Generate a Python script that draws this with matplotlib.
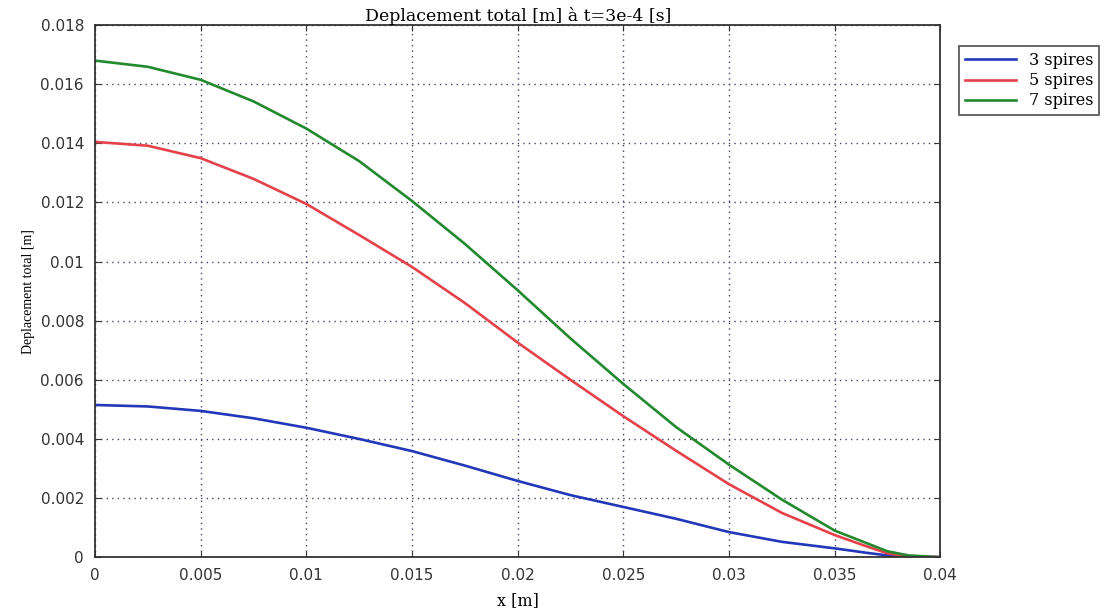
import numpy as np
import matplotlib
matplotlib.use("Agg")
import matplotlib.pyplot as plt

# values
x = [0, 0.0025, 0.005, 0.0075, 0.01, 0.0125, 0.015, 0.0175, 0.02,
     0.0225, 0.025, 0.0275, 0.03, 0.0325, 0.035, 0.0365, 0.0375, 0.0385, 0.04]
spires_3 = [0.00515, 0.0051, 0.00495, 0.0047, 0.00438, 0.0040, 0.00359, 0.0031, 0.00258,
            0.0021, 0.0017, 0.0013, 0.00085, 0.00052, 0.0003, 0.00015, 0.00006, 0.00002, 0.0]
spires_5 = [0.01405, 0.01392, 0.0135, 0.0128, 0.01195, 0.0109, 0.00982, 0.0086, 0.00726,
            0.0060, 0.00477, 0.0036, 0.00247, 0.0015, 0.00075, 0.00037, 0.00013, 0.00003, 0.0]
spires_7 = [0.0168, 0.01659, 0.01615, 0.01542, 0.0145, 0.0134, 0.01205, 0.0106, 0.00903,
            0.0074, 0.00586, 0.0044, 0.00313, 0.00195, 0.0009, 0.00048, 0.0002, 0.00006, 0.0]

labels = ["3 spires", "5 spires", "7 spires"]
colors = ["#2338b8", "#e5414b", "#23892e"]

x_ticks = [0, 0.005, 0.01, 0.015, 0.02, 0.025, 0.03, 0.035, 0.04]
x_ticklabels = ["0", "0.005", "0.01", "0.015", "0.02", "0.025", "0.03", "0.035", "0.04"]
y_ticks = [0, 0.002, 0.004, 0.006, 0.008, 0.01, 0.012, 0.014, 0.016, 0.018]
y_ticklabels = ["0", "0.002", "0.004", "0.006", "0.008", "0.01", "0.012", "0.014", "0.016", "0.018"]

fig = plt.figure(figsize=(11.05, 6.13), dpi=100)
ax = fig.add_axes([0.086, 0.091, 0.765, 0.868])

for ys, lab, c in zip([spires_3, spires_5, spires_7], labels, colors):
    ax.plot(x, ys, color=c, linewidth=1.9, label=lab)

ax.set_xlim(0, 0.04)
ax.set_ylim(0, 0.018)
ax.set_xticks(x_ticks)
ax.set_xticklabels(x_ticklabels)
ax.set_yticks(y_ticks)
ax.set_yticklabels(y_ticklabels)
ax.tick_params(direction="in", length=4, labelsize=11, colors="#333333", pad=8,
               top=True, right=True)

ax.grid(True, color="#444466", linestyle=(0, (1, 3)), linewidth=1.0)
for s in ax.spines.values():
    s.set_color("#333333")
    s.set_linewidth(1.3)

ax.set_title("Deplacement total [m] à t=3e-4 [s]", fontsize=12.5, family="DejaVu Serif", pad=3)
ax.set_xlabel("x [m]", fontsize=11.5, family="DejaVu Serif", labelpad=6)
ax.set_ylabel("Deplacement total [m]", fontsize=10, family="Liberation Serif", labelpad=4)

leg = ax.legend(loc="upper left", bbox_to_anchor=(1.013, 0.975), frameon=True,
                fancybox=False, prop={"family": "DejaVu Serif", "size": 11.5},
                handlelength=3.2, borderpad=0.35, labelspacing=0.2)
leg.get_frame().set_edgecolor("#333333")
leg.get_frame().set_linewidth(1.3)

fig.savefig("out.png", dpi=100)
